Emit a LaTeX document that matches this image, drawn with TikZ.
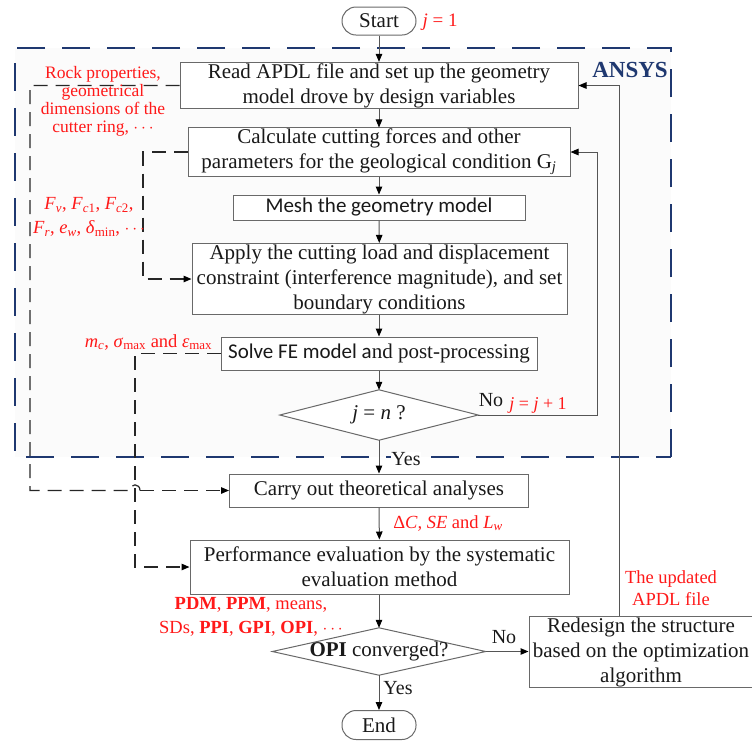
\documentclass[tikz,border=0pt]{standalone}
\usepackage{fontspec}
\setmainfont{Liberation Serif}
\newfontfamily\calibrifont{Carlito}
\usetikzlibrary{arrows.meta}
\definecolor{ansysblue}{RGB}{31,56,112}
\definecolor{lblred}{RGB}{255,25,25}
\definecolor{boxgray}{RGB}{105,105,105}
\definecolor{linegray}{RGB}{85,85,85}
\definecolor{txt}{RGB}{25,25,25}
\definecolor{ansysfill}{RGB}{251,251,251}
\newcommand\sbs[1]{\textsubscript{#1}}
\tikzset{
  box/.style={draw=boxgray, line width=1pt, fill=white, text=txt, align=center, inner sep=1pt,
    font=\fontsize{21}{25}\selectfont},
  pill/.style={box, rounded corners=14pt},
  plain/.style={draw=none, text=txt, align=center, inner sep=0pt, font=\fontsize{21}{25}\selectfont},
  redlbl/.style={text=lblred, align=center, inner sep=0pt},
  blbl/.style={text=txt, inner sep=1pt, font=\fontsize{20}{24}\selectfont},
  arr/.style={draw=linegray, line width=1pt, -{Triangle[length=8pt,width=6.5pt,color=black]}},
  dsh/.style={draw=black!85, line width=1.2pt, dash pattern=on 14pt off 8pt},
  dsharr/.style={dsh, -{Triangle[length=8pt,width=6.5pt,color=black]}},
}
\begin{document}
\begin{tikzpicture}[x=1pt,y=-1pt]
\useasboundingbox (0,0) rectangle (752,740);
% ANSYS region
\fill[ansysfill] (15,48) rectangle (671,457);
\draw[ansysblue, line width=2.8pt, dash pattern=on 28pt off 17pt] (671,457) -- (671,48) -- (15,48) -- (15,457) -- cycle;
\node[text=ansysblue, font=\fontsize{23}{26}\selectfont\bfseries, inner sep=0pt] (ansys) at (630,70) {ANSYS};

% main nodes
\node[pill, minimum width=74pt, minimum height=28pt] (start) at (379,21) {Start};
\node[redlbl, font=\fontsize{19}{22}\selectfont] (j1) at (440,22) {\textit{j} = 1};

\node[box, minimum width=398pt, minimum height=45pt] (b1) at (379,85.5) {Read APDL file and set up the geometry\\model drove by design variables};
\node[box, minimum width=382pt, minimum height=42pt] (b2) at (379,152) {Calculate cutting forces and other\\parameters for the geological condition G\sbs{\textit{j}}};
\node[box, minimum width=292pt, minimum height=25pt] (b3) at (379,207.5) {\calibrifont Mesh the geometry model};
\node[box, minimum width=375pt, minimum height=70pt] (b4) at (379.5,279) {Apply the cutting load and displacement\\constraint (interference magnitude), and set\\boundary conditions};
\node[box, minimum width=316pt, minimum height=33pt] (b5) at (379,353.5) {{\calibrifont Solve FE model a}nd post-processing};

\node[plain, minimum width=198pt, minimum height=50pt] (d1) at (379,415) {\textit{j} = \textit{n} ?};
\draw[draw=boxgray, line width=1pt, fill=white] (d1.west) -- (d1.north) -- (d1.east) -- (d1.south) -- cycle;
\node[plain] at (d1) {\textit{j} = \textit{n} ?};

\node[box, minimum width=299pt, minimum height=33pt] (b6) at (379,490.5) {Carry out theoretical analyses};
\node[box, minimum width=379pt, minimum height=54pt] (b7) at (379.5,567) {Performance evaluation by the systematic\\evaluation method};

\node[plain, minimum width=213pt, minimum height=47pt] (d2) at (379,651.5) {\textbf{OPI} converged?};
\draw[draw=boxgray, line width=1pt, fill=white] (d2.west) -- (d2.north) -- (d2.east) -- (d2.south) -- cycle;
\node[plain] at (d2) {\textbf{OPI} converged?};

\node[box, minimum width=224pt, minimum height=70pt] (rd) at (641,652) {Redesign the structure\\based on the optimization\\algorithm};
\node[pill, minimum width=74pt, minimum height=29pt] (end) at (379,725) {End};

% main flow
\draw[arr] (start) -- (b1);
\draw[arr] (b1) -- (b2);
\draw[arr] (b2) -- (b3);
\draw[arr] (b3) -- (b4);
\draw[arr] (b4.south -| b5.north) -- (b5);
\draw[arr] (b5) -- (d1.north);
\draw[arr] (d1.south) -- (b6);
\draw[arr] (b6) -- (b7);
\draw[arr] (b7.south -| d2.north) -- (d2.north);
\draw[arr] (d2.south) -- (end);
\draw[arr] (d2.east) -- (rd.west |- d2.east);

% feedback loops
\coordinate (fb1) at (597,415);
\coordinate (fb2) at (619,86);
\draw[arr] (d1.east) -- (fb1) |- (b2.east);
\draw[arr] (rd.north -| fb2) |- (b1.east);

% branch labels
\node[blbl] (no1) at (491,400) {No};
\node[redlbl, font=\fontsize{18}{21}\selectfont] (jj) at (538,405) {\textit{j} = \textit{j} + 1};
\node[blbl, fill=white, inner sep=0.5pt] (yes1) at (406,459) {Yes};
\node[blbl] (no2) at (504,637) {No};
\node[blbl] (yes2) at (398,688) {Yes};

% dashed data lines
\coordinate (c1a) at (30,490.5);
\coordinate (h1) at (130,490.5);
\coordinate (h2) at (140,490.5);
\draw[dsh] (b1.west) -| (c1a) -- (h1) .. controls (130,483) and (140,483) .. (h2);
\draw[dsharr] (h2) -- (b6.west);
\coordinate (c2a) at (143,279);
\draw[dsharr] (b2.west) -| (c2a) -- (b4.west);
\coordinate (c3a) at (135,567);
\draw[dsharr] (b5.west) -| (c3a) -- (b7.west);

% red annotations
\node[redlbl, font=\fontsize{17.5}{18}\selectfont] (rl1) at (103,101.5) {Rock properties,\\geometrical\\dimensions of the\\cutter ring, $\cdots$};
\node[redlbl, font=\fontsize{18.5}{24}\selectfont] (rl2) at (89,217) {\textit{F}\sbs{\textit{v}}, \textit{F}\sbs{\textit{c}1}, \textit{F}\sbs{\textit{c}2},\\\textit{F}\sbs{\textit{r}}, \textit{e}\sbs{\textit{w}}, \textit{δ}\sbs{min}, $\cdots$};
\node[redlbl, font=\fontsize{18.5}{22}\selectfont] (rl3) at (148.5,342) {\textit{m}\sbs{\textit{c}}, \textit{σ}\sbs{max} and \textit{ε}\sbs{max}};
\node[redlbl, font=\fontsize{18.5}{22}\selectfont] (rl4) at (448,523) {Δ\textit{C, SE} and \textit{L}\sbs{\textit{w}}};
\node[redlbl, font=\fontsize{18.5}{24}\selectfont] (rl5) at (251,617) {\textbf{PDM}, \textbf{PPM}, means,\\SDs, \textbf{PPI}, \textbf{GPI}, \textbf{OPI}, $\cdots$};
\node[redlbl, font=\fontsize{18.5}{22}\selectfont] (rl6) at (671,588) {The updated\\APDL file};
\end{tikzpicture}
\end{document}
